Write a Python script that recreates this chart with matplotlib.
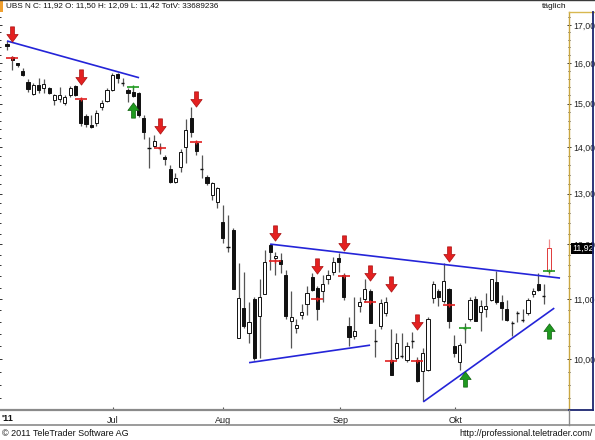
import numpy as np
import matplotlib
matplotlib.use("Agg")
import matplotlib.pyplot as plt
from matplotlib.path import Path
from matplotlib.lines import Line2D
from matplotlib.patches import Rectangle
from matplotlib.ticker import FixedLocator, FixedFormatter, NullFormatter

plt.rcParams['font.family'] = ['Liberation Sans', 'DejaVu Sans']

# ---------------- data (daily OHLC, UBS N, 2011) ----------------
opens = [16.50, 16.16, 15.99, 15.80, 15.53, 15.23, 15.45, 15.38, 15.38, 15.09,
         15.11, 15.02, 15.21, 15.43, 15.09, 14.71, 14.50, 14.55, 14.92, 15.06,
         15.33, 15.72, 15.50, 15.33, 15.28, 15.26, 14.66, 13.99, 14.03, 13.99,
         13.79, 13.52, 13.25, 13.57, 14.01, 14.66, 14.10, 13.52, 13.35, 12.98,
         12.83, 12.43, 11.95, 12.27, 10.34, 10.85, 10.42, 11.00, 10.70, 11.09,
         11.98, 11.73, 11.70, 11.43, 10.62, 10.50, 10.72, 10.91, 11.38, 11.20,
         11.13, 11.35, 11.48, 11.74, 11.43, 10.53, 10.37, 10.88, 11.00, 11.13,
         10.29, 10.53, 10.76, 9.98, 10.02, 10.04, 9.98, 10.29, 9.98, 9.81,
         9.83, 11.02, 11.13, 10.96, 11.17, 10.21, 9.95, 10.50, 10.66, 11.00,
         10.77, 10.83, 10.98, 11.30, 10.95, 10.83, 10.59, 10.75, 10.63, 10.75,
         11.09, 11.26, 11.05, 11.50]
highs = [16.57, 16.18, 16.01, 15.87, 15.60, 15.50, 15.63, 15.60, 15.40, 15.23,
         15.40, 15.21, 15.43, 15.45, 15.14, 14.76, 14.73, 14.85, 15.09, 15.38,
         15.75, 15.75, 15.63, 15.38, 15.38, 15.28, 14.73, 14.23, 14.27, 14.10,
         13.83, 13.61, 13.43, 13.96, 14.64, 14.92, 14.14, 13.83, 13.39, 13.25,
         13.14, 12.77, 12.57, 12.31, 11.65, 11.48, 10.95, 11.03, 11.35, 11.89,
         12.00, 11.85, 11.83, 11.52, 11.13, 10.66, 10.91, 11.22, 11.46, 11.22,
         11.43, 11.52, 11.75, 11.83, 11.46, 10.68, 11.03, 11.03, 11.35, 11.17,
         10.49, 10.99, 11.03, 10.49, 10.42, 10.42, 10.27, 10.44, 10.03, 10.18,
         10.68, 11.31, 11.17, 11.65, 11.20, 10.39, 10.26, 10.58, 11.03, 11.05,
         10.98, 11.11, 11.35, 11.50, 11.07, 10.98, 10.62, 10.79, 10.83, 11.01,
         11.20, 11.46, 11.26, 12.09]
lows = [16.33, 15.82, 15.90, 15.68, 15.28, 15.21, 15.26, 15.26, 15.23, 14.97,
        15.04, 14.97, 15.16, 15.18, 14.48, 14.46, 14.43, 14.48, 14.85, 15.04,
        15.31, 15.50, 15.43, 15.04, 15.16, 14.68, 14.18, 13.55, 14.01, 13.85,
        13.61, 13.23, 13.23, 13.46, 13.65, 14.23, 13.83, 13.33, 13.18, 12.87,
        12.71, 12.02, 11.85, 11.17, 10.34, 10.51, 10.26, 9.98, 10.02, 11.09,
        11.52, 11.43, 11.46, 10.66, 10.18, 10.42, 10.66, 10.72, 11.13, 10.64,
        10.95, 11.26, 11.43, 11.48, 10.98, 10.20, 10.32, 10.78, 10.95, 10.58,
        10.03, 10.49, 10.70, 9.75, 9.98, 10.02, 9.95, 10.18, 9.64, 9.35,
        9.81, 10.93, 10.87, 10.93, 10.50, 10.03, 9.83, 10.26, 10.62, 10.62,
        10.45, 10.68, 10.97, 10.91, 10.64, 10.62, 10.37, 10.60, 10.60, 10.72,
        11.04, 11.13, 10.91, 11.42]
closes = [16.44, 16.08, 15.95, 15.70, 15.35, 15.45, 15.33, 15.48, 15.26, 15.21,
          15.21, 15.16, 15.38, 15.21, 14.55, 14.52, 14.46, 14.78, 15.02, 15.33,
          15.70, 15.63, 15.49, 15.26, 15.19, 14.73, 14.34, 13.97, 14.14, 13.97,
          13.74, 13.25, 13.33, 13.90, 14.39, 14.34, 13.92, 13.50, 13.23, 13.23,
          13.12, 12.12, 11.93, 11.17, 11.02, 10.53, 10.60, 10.02, 11.03, 11.67,
          11.85, 11.78, 11.63, 10.70, 10.68, 10.55, 10.77, 11.11, 11.15, 10.83,
          11.26, 11.43, 11.67, 11.67, 11.04, 10.35, 10.45, 10.95, 11.18, 10.58,
          10.27, 10.93, 10.95, 9.75, 10.26, 10.02, 10.21, 10.27, 9.66, 10.10,
          10.66, 11.26, 11.04, 11.31, 10.62, 10.10, 10.23, 10.52, 10.98, 10.62,
          10.88, 10.88, 11.35, 10.95, 10.85, 10.64, 10.57, 10.74, 10.62, 10.98,
          11.13, 11.15, 11.03, 11.92]

month_labels = ["Jul", "Aug", "Sep", "Okt"]
month_pos = [20.15, 41.1, 63.3, 85.2]
yticks = [10, 11, 12, 13, 14, 15, 16, 17]
ytick_labels = ["10,00", "11,00", "12,00", "13,00", "14,00", "15,00", "16,00", "17,00"]

# signal arrows (candle index, price at arrow centre)
sell_idx = [1, 14, 29, 36, 51, 59, 64, 69, 73, 78, 84]
sell_px = [16.76, 15.64, 14.48, 15.10, 12.22, 11.59, 12.03, 11.47, 11.26, 10.61, 11.82]
buy_idx = [24, 87, 103]
buy_px = [14.86, 9.68, 10.46]
# signal markers (index, price)
sell_mark_idx = [1, 14, 29, 36, 51, 59, 64, 69, 73, 78, 84]
sell_mark_px = [16.12, 15.11, 13.97, 14.12, 11.69, 11.00, 11.41, 10.94, 9.97, 9.97, 10.90]
buy_mark_idx = [24, 87, 103]
buy_mark_px = [15.39, 10.51, 11.50]

# trend lines: (x0, p0, x1, p1)
trend_lines = [
    (0.0, 16.57, 25.1, 15.63),
    (50.0, 12.00, 105.1, 11.37),
    (46.0, 9.94, 69.0, 10.22),
    (79.1, 9.34, 104.0, 10.84),
]

header = "UBS N C: 11,92 O: 11,50 H: 12,09 L: 11,42 TotV: 33689236"
last_label = "11,92"

# ---------------- figure ----------------
W, H = 595, 440
fig = plt.figure(figsize=(W / 100, H / 100), dpi=100)
fig.patch.set_facecolor("white")


def fx(x):
    return x / W


def fy(y):
    return 1 - y / H


ax = fig.add_axes([0, fy(410), fx(569), (410 - 12) / H])
ax.set_facecolor("white")
ax.set_yscale("log")
ax.set_ylim(9.22, 17.35)
ax.set_xlim(-1.33, 106.8)

n = len(opens)
xs = np.arange(n)
bw = 0.6
for i in range(n):
    o, h, l, c = opens[i], highs[i], lows[i], closes[i]
    last = (i == n - 1)
    wick_col = "#f08a8a" if last else "#555555"
    edge = "#e03a3a" if last else "#111111"
    ax.vlines(xs[i], l, h, color=wick_col, linewidth=0.9, zorder=2)
    lo, hi = min(o, c), max(o, c)
    if hi / lo < 1.002:
        ax.hlines(o, xs[i] - bw / 2, xs[i] + bw / 2, color=edge, linewidth=1.0, zorder=3)
        continue
    face = "white" if c > o else "#111111"
    ax.add_patch(Rectangle((xs[i] - bw / 2, lo), bw, hi - lo, facecolor=face,
                           edgecolor=edge, linewidth=0.7, zorder=3))

# trend lines
for (x0, p0, x1, p1) in trend_lines:
    ax.plot([x0, x1], [p0, p1], color="#2424d8", linewidth=1.2, zorder=4,
            solid_capstyle="butt")

# arrow markers
down = Path([(-0.13, 0.5), (0.13, 0.5), (0.13, 0.0), (0.37, 0.0), (0.0, -0.5),
             (-0.37, 0.0), (-0.13, 0.0), (-0.13, 0.5)],
            [Path.MOVETO] + [Path.LINETO] * 6 + [Path.CLOSEPOLY])
up = Path([(x, -y) for (x, y) in down.vertices], down.codes)

ax.plot(sell_idx, sell_px, linestyle="none", marker=down, markersize=11,
        markerfacecolor="#e42020", markeredgecolor="#a81010", markeredgewidth=0.5, zorder=6)
ax.plot(buy_idx, buy_px, linestyle="none", marker=up, markersize=11,
        markerfacecolor="#1f9a1f", markeredgecolor="#0f600f", markeredgewidth=0.5, zorder=6)

for idx, px, col in [(sell_mark_idx, sell_mark_px, "#e02020"),
                     (buy_mark_idx, buy_mark_px, "#1f9a1f")]:
    ax.plot(idx, px, linestyle="none", marker="_", markersize=8,
            markeredgecolor=col, markeredgewidth=1.2, zorder=5)
    ax.plot(idx, px, linestyle="none", marker="|", markersize=3,
            markeredgecolor=col, markeredgewidth=1.0, zorder=5)

# axes styling
for s in ["top", "left"]:
    ax.spines[s].set_visible(False)
ax.spines["bottom"].set_color("#8a8a8a")
ax.spines["bottom"].set_linewidth(1.6)
ax.spines["right"].set_color("#c9a640")
ax.spines["right"].set_linewidth(1.0)
ax.spines["right"].set_linestyle((0, (1, 1)))

ax.yaxis.set_major_locator(FixedLocator(yticks))
ax.yaxis.set_major_formatter(FixedFormatter(ytick_labels))
minor = [v / 10 for v in range(92, 174, 2) if v % 10 != 0]
ax.yaxis.set_minor_locator(FixedLocator(minor))
ax.yaxis.set_minor_formatter(NullFormatter())
ax.tick_params(axis="y", which="both", left=True, right=True, labelleft=False,
               labelright=True, direction="inout", colors="#333333",
               labelsize=6.3, pad=1.5, width=0.7)
ax.tick_params(axis="y", which="major", length=3.5)
ax.tick_params(axis="y", which="minor", length=2)
for t in ax.get_yticklabels():
    t.set_color("#222222")

ax.set_xticks(month_pos)
ax.set_xticklabels(month_labels)
ax.tick_params(axis="x", direction="in", length=2, width=0.8, colors="#555555",
               labelsize=6.5, pad=4)
for t in ax.get_xticklabels():
    t.set_color("#222222")

# ---------------- frame & annotations ----------------
def fline(xa, ya, xb, yb, color, lw):
    fig.add_artist(Line2D([fx(xa), fx(xb)], [fy(ya), fy(yb)], color=color, linewidth=lw,
                          transform=fig.transFigure))

fline(0, 0.5, W, 0.5, "#3a3a3a", 1.0)
fline(569, 12, W, 12, "#d8b850", 1.0)
fline(593, 12, 593, 410, "#1c2570", 1.3)
fline(569, 410, 593, 410, "#1c2570", 1.3)
fline(0, 425, W, 425, "#8a8a8a", 1.2)
fline(568.5, 410, 568.5, 425, "#8a8a8a", 1.0)

fig.add_artist(Rectangle((0, fy(12)), fx(3), 12 / H, transform=fig.transFigure,
                         facecolor="#f0a030", edgecolor="none"))

fig.text(fx(6), fy(6), header, fontsize=5.9, va="center", ha="left", color="#111111")
fig.text(fx(567), fy(6), "täglich", fontsize=6, va="center", ha="right", color="#111111")
fig.text(fx(2), fy(418), "'11", fontsize=6.5, va="center", ha="left",
         fontweight="bold", color="#111111")
fig.text(fx(2), fy(433), "© 2011 TeleTrader Software AG", fontsize=6.5,
         va="center", ha="left", color="#111111")
fig.text(fx(593), fy(433), "http://professional.teletrader.com/", fontsize=6.5,
         va="center", ha="right", color="#111111")

ax.text(1.005, closes[-1], last_label, transform=ax.get_yaxis_transform(),
        fontsize=6.3, color="white", va="center", ha="left", zorder=10,
        bbox=dict(boxstyle="square,pad=0.08", facecolor="black", edgecolor="none"),
        clip_on=False)

fig.savefig("out.png", dpi=100, facecolor="white")
